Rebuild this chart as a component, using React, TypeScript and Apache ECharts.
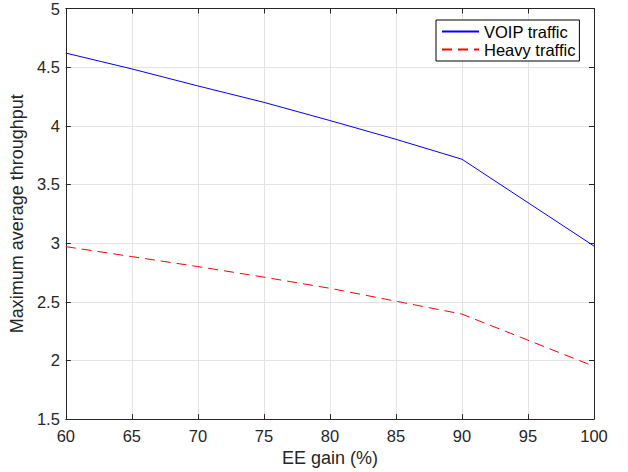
import React, { useEffect, useRef } from "react";
import * as echarts from "echarts";

const eeGain = [60, 65, 70, 75, 80, 85, 90, 100];
const voipTraffic = [4.62, 4.485, 4.34, 4.2, 4.045, 3.885, 3.715, 2.975];
const heavyTraffic = [2.97, 2.885, 2.8, 2.71, 2.615, 2.505, 2.395, 1.95];
const seriesNames = ["VOIP traffic", "Heavy traffic"];
const xLabel = "EE gain (%)";
const yLabel = "Maximum average throughput";

const FONT = "'Liberation Sans', Arial, Helvetica, sans-serif";
const AXIS_COLOR = "#262626";
const GRID_COLOR = "#e3e3e3";
const TICK_FONT = 16.5;
const LABEL_FONT = 18;
const BLUE = "#0000ff";
const RED = "#ff0000";
const DASH = [10, 6];

export default function App() {
  const ref = useRef<HTMLDivElement>(null);

  useEffect(() => {
    if (!ref.current) return;
    const chart = echarts.init(ref.current, undefined, { renderer: "svg" });
    const axisLine = { show: true, lineStyle: { color: AXIS_COLOR, width: 1 } };
    const axisTick = { show: true, inside: true, length: 5, lineStyle: { color: AXIS_COLOR, width: 1 } };
    const pairs = (ys: number[]) => eeGain.map((x, i) => [x, ys[i]]);
    chart.setOption({
      animation: false,
      backgroundColor: "#ffffff",
      textStyle: { fontFamily: FONT },
      grid: { left: 65.5, right: 34, top: 8, bottom: 47, containLabel: false },
      legend: {
        orient: "vertical",
        left: 436,
        top: 20,
        padding: [3, 4, 3, 5],
        itemWidth: 37,
        itemHeight: 15,
        itemGap: 1,
        borderColor: "#000000",
        borderWidth: 1,
        borderRadius: 0,
        backgroundColor: "#ffffff",
        itemStyle: { color: "transparent", borderWidth: 0, opacity: 0 },
        textStyle: { fontFamily: FONT, fontSize: TICK_FONT, lineHeight: 15, color: "#000000" },
        data: seriesNames,
      },
      xAxis: [
        {
          type: "value",
          min: 60,
          max: 100,
          interval: 5,
          position: "bottom",
          name: xLabel,
          nameLocation: "middle",
          nameGap: 22,
          nameTextStyle: { fontFamily: FONT, fontSize: LABEL_FONT, color: AXIS_COLOR },
          axisLine,
          axisTick,
          axisLabel: { fontFamily: FONT, fontSize: TICK_FONT, color: AXIS_COLOR, margin: 8 },
          splitLine: { show: true, lineStyle: { color: GRID_COLOR, width: 1 } },
        },
        {
          type: "value",
          min: 60,
          max: 100,
          interval: 5,
          position: "top",
          axisLine,
          axisTick,
          axisLabel: { show: false },
          splitLine: { show: false },
        },
      ],
      yAxis: [
        {
          type: "value",
          min: 1.5,
          max: 5,
          interval: 0.5,
          position: "left",
          name: yLabel,
          nameLocation: "middle",
          nameGap: 28,
          nameRotate: 90,
          nameTextStyle: { fontFamily: FONT, fontSize: LABEL_FONT, color: AXIS_COLOR },
          axisLine,
          axisTick,
          axisLabel: { fontFamily: FONT, fontSize: TICK_FONT, color: AXIS_COLOR, margin: 6 },
          splitLine: { show: true, lineStyle: { color: GRID_COLOR, width: 1 } },
        },
        {
          type: "value",
          min: 1.5,
          max: 5,
          interval: 0.5,
          position: "right",
          axisLine,
          axisTick,
          axisLabel: { show: false },
          splitLine: { show: false },
        },
      ],
      series: [
        {
          name: seriesNames[0],
          type: "line",
          xAxisIndex: 0,
          yAxisIndex: 0,
          data: pairs(voipTraffic),
          showSymbol: false,
          symbol: "none",
          color: BLUE,
          lineStyle: { color: BLUE, width: 1 },
          itemStyle: { color: BLUE },
        },
        {
          name: seriesNames[1],
          type: "line",
          xAxisIndex: 0,
          yAxisIndex: 0,
          data: pairs(heavyTraffic),
          showSymbol: false,
          symbol: "none",
          color: RED,
          lineStyle: { color: RED, width: 1, type: DASH },
          itemStyle: { color: RED },
        },
      ],
    });
    return () => chart.dispose();
  }, []);

  return (
    <div
      ref={ref}
      style={{ position: "fixed", left: 0, top: 0, width: 628, height: 472, background: "#fff" }}
    />
  );
}
